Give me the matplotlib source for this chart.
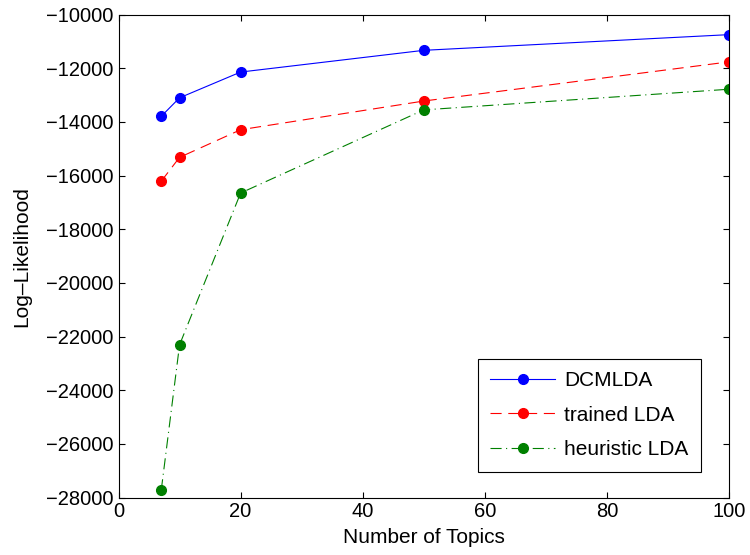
import matplotlib
matplotlib.use("Agg")
import matplotlib.pyplot as plt

plt.rcParams['font.family'] = ['Liberation Sans', 'DejaVu Sans']

# number of topics
topics = [7, 10, 20, 50, 100]

# log-likelihood of each model
dcmlda = [-13790, -13100, -12140, -11330, -10745]
trained_lda = [-16210, -15320, -14290, -13220, -11760]
heuristic_lda = [-27730, -22310, -16650, -13550, -12780]

fig = plt.figure(figsize=(7.5, 5.55), dpi=100)
ax = fig.add_axes([0.158, 0.1036, 0.814, 0.87])

ax.plot(topics, dcmlda, color='#0000ff', linestyle='-', linewidth=0.8,
        marker='o', markersize=7, label='DCMLDA')
ax.plot(topics, trained_lda, color='#ff0000', linestyle=(0, (10, 6)), linewidth=0.8,
        marker='o', markersize=7, label='trained LDA')
ax.plot(topics, heuristic_lda, color='#008000', linestyle=(0, (10, 4, 1, 4)), linewidth=0.8,
        marker='o', markersize=7, label='heuristic LDA')

ax.set_xlim(0, 100)
ax.set_ylim(-28000, -10000)
ax.set_xticks([0, 20, 40, 60, 80, 100])
ax.set_yticks(range(-28000, -9999, 2000))
ax.tick_params(direction='in', top=True, right=True, labelsize=14.5, length=4, width=0.8)
for s in ax.spines.values():
    s.set_linewidth(0.8)

ax.set_xlabel('Number of Topics', fontsize=15, labelpad=5)
ax.set_ylabel('Log\u2013Likelihood', fontsize=15, labelpad=11)

leg = ax.legend(loc='lower right', bbox_to_anchor=(0.954, 0.053), borderaxespad=0,
                fontsize=15, fancybox=False, framealpha=1, edgecolor='black',
                handlelength=3.1, handletextpad=0.45, borderpad=0.6, labelspacing=0.75)
leg.get_frame().set_linewidth(0.8)

fig.savefig('out.png', dpi=100)
